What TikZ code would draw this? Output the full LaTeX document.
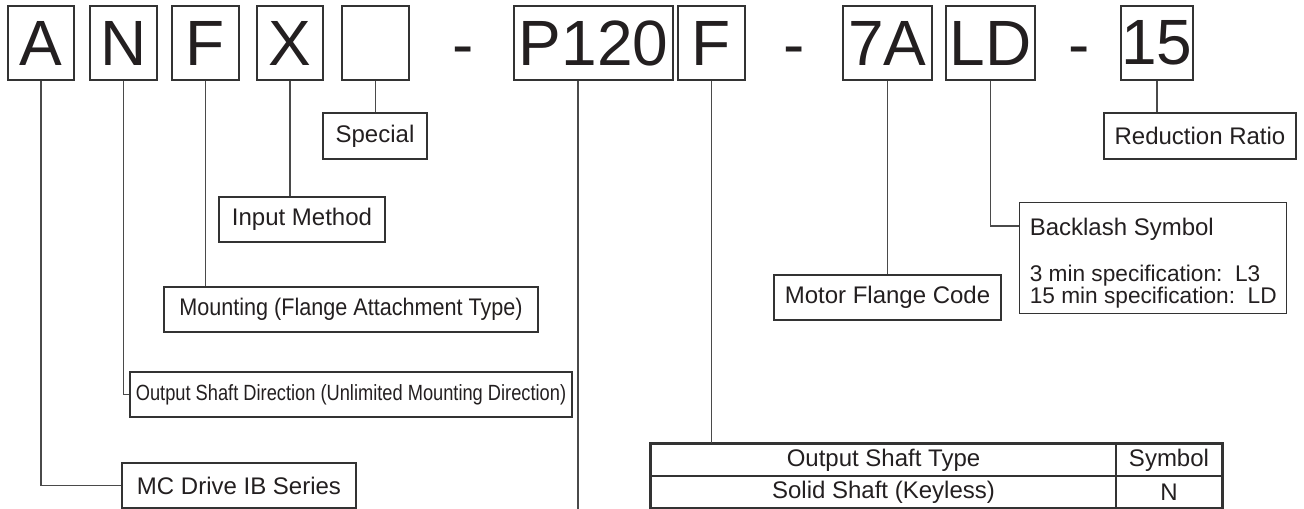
\documentclass[tikz,border=0pt]{standalone}
\usepackage{fontspec}
\setmainfont{Liberation Sans}
\newfontfamily\narrowfont[FakeStretch=0.83]{Liberation Sans}
\newfontfamily\slimfont[FakeStretch=0.9]{Liberation Sans}
\usepackage{xcolor}
\usetikzlibrary{positioning}
\definecolor{ink}{HTML}{231F20}
\definecolor{frame}{HTML}{333333}
\definecolor{wire}{HTML}{4A4A4A}

\begin{document}
\begin{tikzpicture}[
  x=0.75pt,y=-0.75pt,
  text=ink,
  code/.style={draw=frame,line width=1.5pt,minimum height=55.5pt,inner sep=0pt,font=\fontsize{48}{52}\selectfont},
  hyph/.style={anchor=base,inner sep=0pt,font=\fontsize{48}{52}\selectfont},
  lbl/.style={draw=frame,line width=1.1pt,minimum height=33.75pt,inner sep=3pt,font=\fontsize{18}{21}\selectfont},
  cell/.style={draw=frame,line width=0.9pt,minimum height=24pt,inner sep=0pt,font=\fontsize{18}{21}\selectfont},
  link/.style={draw=wire,line width=1pt},
]
\useasboundingbox (0,0) rectangle (1304,509);

% --- model code row
\node[code,minimum width=49.5pt] (cA) at (41,43) {A};
\node[code,minimum width=50.25pt] (cN) at (123.5,43) {N};
\node[code,minimum width=50.25pt] (cF) at (205.5,43) {F};
\node[code,minimum width=49.5pt] (cX) at (290,43) {X};
\node[code,minimum width=50.25pt] (cS) at (375.5,43) {};
\node[hyph] (h1) at (463,67) {-};
\node[code,minimum width=119.25pt] (cP) at (593.5,43) {P120};
\node[code,minimum width=50.25pt] (cF2) at (711.5,43) {F};
\node[hyph] (h2) at (794,67) {-};
\node[code,minimum width=66.75pt] (c7) at (887.5,43) {7A};
\node[code,minimum width=66.75pt] (cL) at (990.5,43) {LD};
\node[hyph] (h3) at (1079,67) {-};
\node[code,minimum width=54pt] (c15) at (1157,43) {15};

% --- labels
\node[lbl,minimum width=78pt,minimum height=34.5pt] (spec) at (375,136) {Special};
\node[lbl,minimum width=124.5pt] (inp) at (302,219.5) {Input Method};
\node[lbl,minimum width=280.5pt,font=\slimfont\fontsize{18}{21}\selectfont] (mnt) at (351,309.5) {Mounting (Flange Attachment Type)};
\node[lbl,minimum width=331.5pt,inner xsep=1pt,font=\narrowfont\fontsize{16.5}{20}\selectfont] (osd) at (351,394.5) {Output Shaft Direction (Unlimited Mounting Direction)};
\node[lbl,minimum width=175.5pt] (mc) at (239,485.5) {MC Drive IB Series};
\node[lbl,minimum width=170.25pt] (mfc) at (887.5,297.5) {Motor Flange Code};
\node[lbl,minimum width=144pt,minimum height=34.5pt] (red) at (1200,136) {Reduction Ratio};
\node[lbl,anchor=north west,minimum width=200.25pt,minimum height=83.25pt,align=left,inner xsep=5pt,
  font=\fontsize{17}{16.5}\selectfont] (bkl) at (1019,202)
  {{\fontsize{18}{21}\selectfont\rule{0pt}{20pt}Backlash Symbol}\\[18pt]
   3 min specification:\ \ L3\\
   15 min specification:\ \ LD};

% --- output shaft table
\node[cell,minimum width=348.75pt] (hdtype) at (883.5,460) {Output Shaft Type};
\node[cell,minimum width=79.5pt] (hdsym) at (1169,460) {Symbol};
\node[cell,minimum width=348.75pt] (rowtype) at (883.5,492) {Solid Shaft (Keyless)};
\node[cell,minimum width=79.5pt] (rowsym) at (1169,492) {N};
\draw[frame,line width=2.2pt] (rowtype.south west) -- (hdtype.north west) -- (hdsym.north east) -- (rowsym.south east);

% --- connectors
\draw[link] (cA.south) |- (mc.west);
\draw[link] (cN.south) |- (osd.west);
\draw[link] (cF.south) -- (cF.south |- mnt.north);
\draw[link] (cX.south) -- (cX.south |- inp.north);
\draw[link] (cS.south) -- (cS.south |- spec.north);
\coordinate (pend) at (578,512);
\draw[link] (cP.south -| pend) -- (pend);
\draw[link] (cF2.south) -- (cF2.south |- hdtype.north);
\draw[link] (c7.south) -- (c7.south |- mfc.north);
\draw[link] (cL.south) |- ([yshift=-18pt]bkl.north west);
\draw[link] (c15.south) -- (c15.south |- red.north);
\end{tikzpicture}
\end{document}
